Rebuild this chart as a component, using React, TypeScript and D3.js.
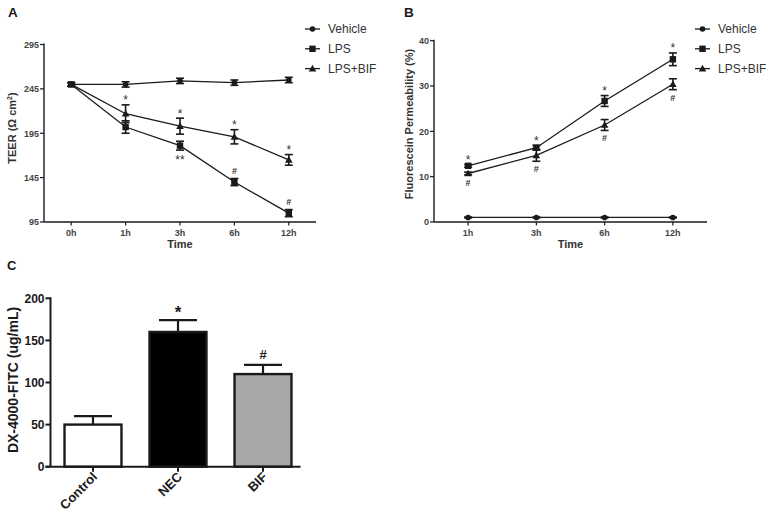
import React from "react";
import * as d3 from "d3";

// ---------- Panel A data (TEER) ----------
const timesA = ["0h", "1h", "3h", "6h", "12h"];
const vehicleA = [250, 250, 254, 252, 255];
const vehicleAErr = [2, 3, 3, 3, 3];
const lpsA = [250, 202, 181, 140, 105];
const lpsAErr = [2, 7, 5, 4, 4];
const bifA = [250, 217, 203, 191, 165];
const bifAErr = [2, 10, 9, 8, 6];
const ticksA = [95, 145, 195, 245, 295];
const marksA = [
  { series: "bif", index: 1, text: "*", side: "above" },
  { series: "bif", index: 2, text: "*", side: "above" },
  { series: "bif", index: 3, text: "*", side: "above" },
  { series: "bif", index: 4, text: "*", side: "above" },
  { series: "lps", index: 2, text: "**", side: "below" },
  { series: "lps", index: 3, text: "#", side: "above" },
  { series: "lps", index: 4, text: "#", side: "above" },
];

// ---------- Panel B data (Fluorescein permeability) ----------
const timesB = ["1h", "3h", "6h", "12h"];
const vehicleB = [1.0, 1.0, 1.0, 1.0];
const vehicleBErr = [0.1, 0.1, 0.1, 0.1];
const lpsB = [12.4, 16.4, 26.7, 35.9];
const lpsBErr = [0.3, 0.5, 1.2, 1.4];
const bifB = [10.7, 14.7, 21.4, 30.4];
const bifBErr = [0.3, 1.3, 1.2, 1.2];
const ticksB = [0, 10, 20, 30, 40];
const marksB = [
  { series: "lps", index: 0, text: "*", side: "above" },
  { series: "lps", index: 1, text: "*", side: "above" },
  { series: "lps", index: 2, text: "*", side: "above" },
  { series: "lps", index: 3, text: "*", side: "above" },
  { series: "bif", index: 0, text: "#", side: "below" },
  { series: "bif", index: 1, text: "#", side: "below" },
  { series: "bif", index: 2, text: "#", side: "below" },
  { series: "bif", index: 3, text: "#", side: "below" },
];

// ---------- Panel C data (DX-4000-FITC) ----------
const groupsC = ["Control", "NEC", "BIF"];
const valuesC = [50, 160, 110];
const errorsC = [10, 14, 11];
const fillsC = ["#ffffff", "#000000", "#a8a8a8"];
const marksC = ["", "*", "#"];
const ticksC = [0, 50, 100, 150, 200];

const legendNames = ["Vehicle", "LPS", "LPS+BIF"];
const legendShapes = ["circle", "square", "triangle"];

const INK = "#1a1a1a";
const TXT = "#333";
const FONT = "'Liberation Sans', Arial, sans-serif";

function Marker({ shape, x, y }: { shape: string; x: number; y: number }) {
  if (shape === "circle") return <circle cx={x} cy={y} r={2.8} fill={INK} />;
  if (shape === "square") return <rect x={x - 3.2} y={y - 3.2} width={6.4} height={6.4} fill={INK} />;
  const s = 3.8;
  return (
    <path
      d={`M${x},${y - s} L${x + s},${y + s * 0.75} L${x - s},${y + s * 0.75} Z`}
      fill={INK}
    />
  );
}

function Legend({ x, y }: { x: number; y: number }) {
  return (
    <g>
      {legendNames.map((n, i) => {
        const yy = y + i * 19.8;
        return (
          <g key={n}>
            <line x1={x} x2={x + 15} y1={yy} y2={yy} stroke={INK} strokeWidth={1.3} />
            <Marker shape={legendShapes[i]} x={x + 7.5} y={yy} />
            <text x={x + 23} y={yy + 4.3} fontSize={12} fill={TXT} fontFamily={FONT}>
              {n}
            </text>
          </g>
        );
      })}
    </g>
  );
}

function LinePanel(props: {
  cats: string[];
  series: { vals: number[]; errs: number[]; shape: string; key: string }[];
  marks: { series: string; index: number; text: string; side: string }[];
  yDomain: [number, number];
  ticks: number[];
  x0: number;
  x1: number;
  yTop: number;
  yBottom: number;
  yLabel: React.ReactNode;
  yLabelX: number;
  yLabelY: number;
  title: string;
  titleX: number;
}) {
  const { cats, series, marks, yDomain, ticks, x0, x1, yTop, yBottom } = props;
  const x = d3.scaleBand<string>().domain(cats).range([x0, x1]);
  const cx = (c: string) => (x(c) as number) + x.bandwidth() / 2;
  const y = d3.scaleLinear().domain(yDomain).range([yBottom, yTop]);
  const line = d3
    .line<number>()
    .x((_, i) => cx(cats[i]))
    .y((d) => y(d));
  const byKey: Record<string, { vals: number[]; errs: number[] }> = {};
  series.forEach((s) => (byKey[s.key] = s));
  return (
    <g fontFamily={FONT}>
      <text x={props.titleX} y={17} fontSize={13.5} fontWeight="bold" fill={INK}>
        {props.title}
      </text>
      {/* axes */}
      <line x1={x0} x2={x0} y1={yTop - 1} y2={yBottom} stroke={INK} strokeWidth={1.4} />
      <line x1={x0} x2={x1} y1={yBottom} y2={yBottom} stroke={INK} strokeWidth={1.4} />
      {ticks.map((t) => (
        <g key={t}>
          <line x1={x0 - 4} x2={x0} y1={y(t)} y2={y(t)} stroke={INK} strokeWidth={1.2} />
          <text
            x={x0 - 5}
            y={y(t) + 3.3}
            fontSize={9}
            fontWeight="bold"
            textAnchor="end"
            fill="#444"
          >
            {t}
          </text>
        </g>
      ))}
      {cats.map((c) => (
        <g key={c}>
          <line x1={cx(c)} x2={cx(c)} y1={yBottom} y2={yBottom + 3.5} stroke={INK} strokeWidth={1.2} />
          <text x={cx(c)} y={yBottom + 13.5} fontSize={9} fontWeight="bold" textAnchor="middle" fill="#444">
            {c}
          </text>
        </g>
      ))}
      <text
        x={(x0 + x1) / 2}
        y={yBottom + 25.5}
        fontSize={11}
        fontWeight="bold"
        textAnchor="middle"
        fill="#333"
      >
        Time
      </text>
      <text
        transform={`translate(${props.yLabelX},${props.yLabelY}) rotate(-90)`}
        fontSize={11}
        fontWeight="bold"
        textAnchor="middle"
        fill="#333"
      >
        {props.yLabel}
      </text>
      {/* series */}
      {series.map((s) => (
        <g key={s.key}>
          <path d={line(s.vals) || ""} fill="none" stroke={INK} strokeWidth={1.3} />
          {s.vals.map((v, i) => {
            const px = cx(cats[i]);
            const e = s.errs[i];
            return (
              <g key={i}>
                <line x1={px} x2={px} y1={y(v + e)} y2={y(v - e)} stroke={INK} strokeWidth={1.6} />
                <line x1={px - 4} x2={px + 4} y1={y(v + e)} y2={y(v + e)} stroke={INK} strokeWidth={1.6} />
                <line x1={px - 4} x2={px + 4} y1={y(v - e)} y2={y(v - e)} stroke={INK} strokeWidth={1.6} />
                <Marker shape={s.shape} x={px} y={y(v)} />
              </g>
            );
          })}
        </g>
      ))}
      {/* significance marks */}
      {marks.map((m, i) => {
        const s = byKey[m.series];
        const v = s.vals[m.index];
        const e = s.errs[m.index];
        const px = cx(cats[m.index]);
        const isStar = m.text.includes("*");
        let cy: number;
        if (m.side === "above") cy = y(v + e) - (isStar ? 6.5 : 8);
        else cy = y(v - e) + (isStar ? 8 : 7.5);
        const base = cy + (isStar ? 6 : 3.5);
        return (
          <text
            key={i}
            x={px}
            y={base}
            fontSize={isStar ? 12 : 9}
            fontWeight={isStar ? "normal" : "bold"}
            textAnchor="middle"
            fill="#333"
          >
            {m.text}
          </text>
        );
      })}
    </g>
  );
}

function BarPanel() {
  const x0 = 50.5;
  const yB = 466.7;
  const yT = 298.3;
  const x = d3.scaleBand<string>().domain(groupsC).range([x0, x0 + 255]).paddingInner(0.33).paddingOuter(0.165);
  const y = d3.scaleLinear().domain([0, 200]).range([yB, yT]);
  return (
    <g fontFamily={FONT}>
      <text x={7} y={270} fontSize={13} fontWeight="bold" fill={INK}>
        C
      </text>
      {groupsC.map((g, i) => {
        const bx = x(g) as number;
        const w = x.bandwidth();
        const c = bx + w / 2;
        const top = y(valuesC[i]);
        const et = y(valuesC[i] + errorsC[i]);
        return (
          <g key={g}>
            <line x1={c} x2={c} y1={top} y2={et} stroke={INK} strokeWidth={2.2} />
            <line x1={c - w / 3} x2={c + w / 3} y1={et} y2={et} stroke={INK} strokeWidth={2.2} />
            <rect
              x={bx}
              y={top}
              width={w}
              height={yB - top}
              fill={fillsC[i]}
              stroke={INK}
              strokeWidth={2.4}
            />
            {marksC[i] && (
              <text
                x={c}
                y={et - (marksC[i] === "*" ? 2 : 6)}
                fontSize={marksC[i] === "*" ? 17 : 13}
                fontWeight="bold"
                textAnchor="middle"
                fill={INK}
              >
                {marksC[i]}
              </text>
            )}
            <line x1={c} x2={c} y1={yB} y2={yB + 5} stroke={INK} strokeWidth={2} />
            <text
              transform={`translate(${c + 5},${yB + 11}) rotate(-45)`}
              fontSize={13}
              fontWeight="bold"
              textAnchor="end"
              fill={INK}
            >
              {g}
            </text>
          </g>
        );
      })}
      <line x1={x0} x2={x0} y1={yT - 1} y2={yB} stroke={INK} strokeWidth={2} />
      <line x1={x0 - 5} x2={x0 + 250} y1={yB} y2={yB} stroke={INK} strokeWidth={2} />
      {ticksC.map((t) => (
        <g key={t}>
          <line x1={x0 - 5} x2={x0} y1={y(t)} y2={y(t)} stroke={INK} strokeWidth={2} />
          <text x={x0 - 6} y={y(t) + 4.3} fontSize={12} fontWeight="bold" textAnchor="end" fill={INK}>
            {t}
          </text>
        </g>
      ))}
      <text
        transform={`translate(18,380) rotate(-90)`}
        fontSize={14}
        fontWeight="bold"
        textAnchor="middle"
        fill={INK}
      >
        DX-4000-FITC (ug/mL)
      </text>
    </g>
  );
}

export default function App() {
  return (
    <div style={{ position: "absolute", left: 0, top: 0 }}>
      <svg width={766} height={521} style={{ display: "block", background: "#fff" }}>
        <LinePanel
          cats={timesA}
          series={[
            { vals: vehicleA, errs: vehicleAErr, shape: "circle", key: "veh" },
            { vals: lpsA, errs: lpsAErr, shape: "square", key: "lps" },
            { vals: bifA, errs: bifAErr, shape: "triangle", key: "bif" },
          ]}
          marks={marksA}
          yDomain={[95, 295]}
          ticks={ticksA}
          x0={44}
          x1={316}
          yTop={44.5}
          yBottom={222}
          yLabel={
            <>
              TEER (Ω cm<tspan dy={-4} fontSize={7}>2</tspan>
              <tspan dy={4}>)</tspan>
            </>
          }
          yLabelX={16}
          yLabelY={128}
          title="A"
          titleX={8}
        />
        <Legend x={305} y={29} />
        <LinePanel
          cats={timesB}
          series={[
            { vals: vehicleB, errs: vehicleBErr, shape: "circle", key: "veh" },
            { vals: lpsB, errs: lpsBErr, shape: "square", key: "lps" },
            { vals: bifB, errs: bifBErr, shape: "triangle", key: "bif" },
          ]}
          marks={marksB}
          yDomain={[0, 40]}
          ticks={ticksB}
          x0={434}
          x1={707}
          yTop={40.7}
          yBottom={222}
          yLabel="Fluorescein Permeability (%)"
          yLabelX={413}
          yLabelY={124}
          title="B"
          titleX={404}
        />
        <Legend x={695} y={29} />
        <BarPanel />
      </svg>
    </div>
  );
}
